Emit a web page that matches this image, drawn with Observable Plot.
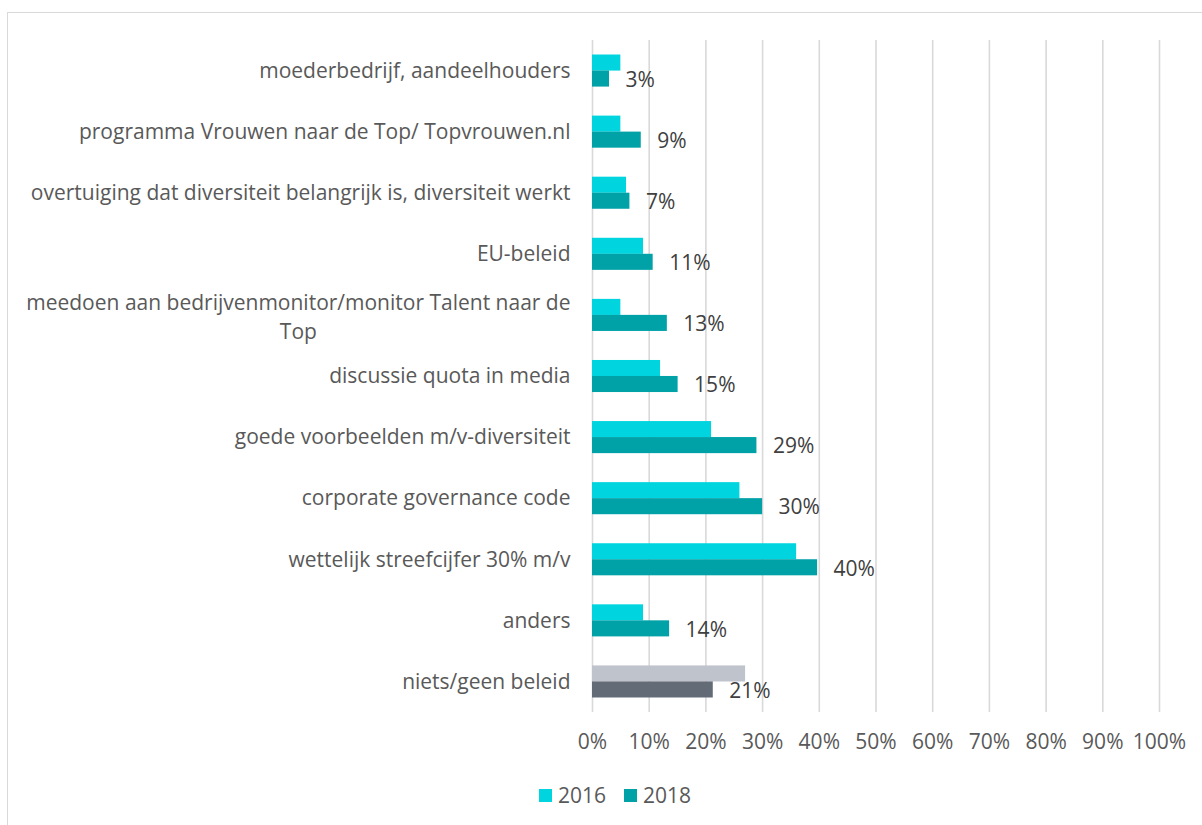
<!DOCTYPE html>
<html>
<head>
<meta charset="utf-8">
<script src="https://cdn.jsdelivr.net/npm/d3@7"></script>
<script src="https://cdn.jsdelivr.net/npm/@observablehq/plot@0.6"></script>
<style>
  html, body { margin: 0; padding: 0; background: #fff; overflow: hidden; }
  body { width: 1202px; height: 825px; position: relative; font-family: "Open Sans", sans-serif; }
  #frame { position: absolute; left: 7px; top: 12px; width: 1210px; height: 830px; border: 1px solid #d9d9d9; box-sizing: border-box; }
  #chart { position: absolute; left: 0; top: 0; }
  #legend { position: absolute; left: 0; top: 783px; width: 1202px; height: 24px; font-size: 21px; color: #595959; }
  #legend .item { position: absolute; top: 0; display: flex; align-items: center; height: 24px; }
  #legend .sw { width: 13px; height: 13px; display: inline-block; margin-right: 6px; }
</style>
</head>
<body>
<div id="frame"></div>
<div id="chart"></div>
<div id="legend"></div>
<script>
// ---- data ----
const categories = [
  "moederbedrijf, aandeelhouders",
  "programma Vrouwen naar de Top/ Topvrouwen.nl",
  "overtuiging dat diversiteit belangrijk is, diversiteit werkt",
  "EU-beleid",
  "meedoen aan bedrijvenmonitor/monitor Talent naar de Top",
  "discussie quota in media",
  "goede voorbeelden m/v-diversiteit",
  "corporate governance code",
  "wettelijk streefcijfer 30% m/v",
  "anders",
  "niets/geen beleid"
];
const values2016 = [5, 5, 6, 9, 5, 12, 21, 26, 36, 9, 27];
const values2018 = [3, 8.6, 6.6, 10.7, 13.2, 15.1, 29, 30, 39.7, 13.6, 21.3];
const years = ["2016", "2018"];
const xTicks = [0, 10, 20, 30, 40, 50, 60, 70, 80, 90, 100];
const wrappedLabel = "meedoen aan bedrijvenmonitor/monitor Talent naar de Top";
const wrappedLines = ["meedoen aan bedrijvenmonitor/monitor Talent naar de", "Top"];
const specialCategory = "niets/geen beleid";

// ---- styles ----
const colors = {"2016": "#00D5DF", "2018": "#00A2A8"};
const specialColors = {"2016": "#BFC3CC", "2018": "#636B77"};
const FS = 21;

const rows2016 = categories.map((c, i) => ({cat: c, year: "2016", value: values2016[i]}));
const rows2018 = categories.map((c, i) => ({cat: c, year: "2018", value: values2018[i]}));
const fillOf = d => d.cat === specialCategory ? specialColors[d.year] : colors[d.year];

const chart = Plot.plot({
  width: 1202,
  height: 770,
  marginLeft: 592,
  marginRight: 43,
  marginTop: 40,
  marginBottom: 58,
  style: {fontFamily: "Open Sans", fontSize: FS + "px", color: "#595959", background: "transparent"},
  x: {domain: [0, 100], axis: null, label: null},
  y: {domain: categories, paddingInner: 0.475, paddingOuter: 0.2375, round: false, axis: null, label: null},
  marks: [
    Plot.gridX({ticks: xTicks, stroke: "#d9d9d9", strokeOpacity: 1, strokeWidth: 1.6}),
    Plot.barX(rows2016, {x: "value", y: "cat", fill: fillOf, insetBottom: 16}),
    Plot.barX(rows2018, {x: "value", y: "cat", fill: fillOf, insetTop: 16}),
    Plot.text(rows2018, {x: "value", y: "cat", text: d => Math.round(d.value) + "%", dx: 16, dy: 9, textAnchor: "start", fill: "#404040", fontSize: FS}),
    Plot.axisX({ticks: xTicks, tickFormat: d => d + "%", tickSize: 0, tickPadding: 22, anchor: "bottom", fill: "#595959", fontSize: FS, label: null}),
    Plot.axisY({tickSize: 0, tickPadding: 22, anchor: "left", fill: "#595959", fontSize: FS, label: null,
      tickFormat: d => d === wrappedLabel ? "" : d}),
    Plot.text([wrappedLabel], {y: d => d, frameAnchor: "left", text: () => wrappedLines.join("\n"),
      textAnchor: "middle", lineHeight: 1.38, fill: "#595959", fontSize: FS})
  ]
});
document.getElementById("chart").appendChild(chart);

// right-align the wrapped (centered) label block with the other axis labels
(function alignWrapped() {
  const texts = Array.from(chart.querySelectorAll("text"));
  const ref = texts.find(t => t.textContent === categories[0]);
  const wrapped = texts.find(t => t.textContent.startsWith(wrappedLines[0]));
  if (!ref || !wrapped) return;
  const right = ref.getBoundingClientRect().right;
  const wr = wrapped.getBoundingClientRect();
  const shift = right - wr.right;
  const tr = wrapped.getAttribute("transform") || "";
  wrapped.setAttribute("transform", `translate(${shift},0) ` + tr);
})();

// legend
const legend = document.getElementById("legend");
const legendLefts = {"2016": 539, "2018": 624};
years.forEach(y => {
  const item = document.createElement("div");
  item.className = "item";
  item.style.left = legendLefts[y] + "px";
  const sw = document.createElement("span");
  sw.className = "sw";
  sw.style.background = colors[y];
  const lab = document.createElement("span");
  lab.textContent = y;
  item.appendChild(sw);
  item.appendChild(lab);
  legend.appendChild(item);
});
</script>
</body>
</html>
